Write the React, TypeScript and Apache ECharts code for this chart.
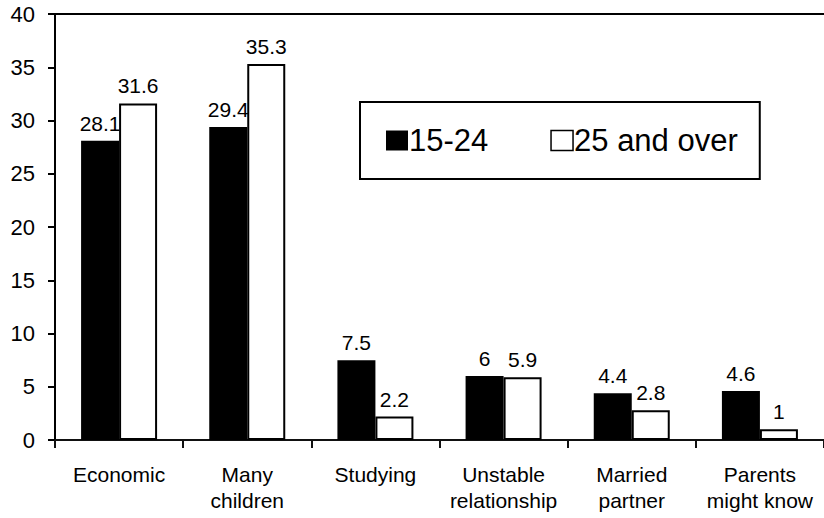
import React, { useEffect, useRef } from "react";
import * as echarts from "echarts";

const categories = [
  "Economic",
  "Many\nchildren",
  "Studying",
  "Unstable\nrelationship",
  "Married\npartner",
  "Parents\nmight know",
];
const young = [28.1, 29.4, 7.5, 6, 4.4, 4.6];
const older = [31.6, 35.3, 2.2, 5.9, 2.8, 1];
const seriesNames = ["15-24", "25 and over"];

const FONT = "'Liberation Sans', Arial, sans-serif";

export default function App() {
  const ref = useRef<HTMLDivElement>(null);

  useEffect(() => {
    if (!ref.current) return;
    const chart = echarts.init(ref.current, null, { renderer: "svg" });
    const barLabel = {
      show: true,
      position: "top",
      distance: 7,
      color: "#000",
      fontSize: 21,
      fontFamily: FONT,
    };
    chart.setOption({
      animation: false,
      backgroundColor: "#fff",
      textStyle: { fontFamily: FONT },
      grid: { left: 55, top: 14, width: 777, bottom: 78 },
      legend: {
        left: 360,
        top: 102,
        orient: "horizontal",
        icon: "rect",
        itemWidth: 22,
        itemHeight: 20,
        itemGap: 62,
        padding: [23, 22, 23, 26],
        borderColor: "#000",
        borderWidth: 2,
        backgroundColor: "#fff",
        textStyle: { fontSize: 31, color: "#000", fontFamily: FONT, padding: [0, 0, 0, -4] },
        data: [
          { name: seriesNames[0], itemStyle: { color: "#000" } },
          { name: seriesNames[1], itemStyle: { color: "#fff", borderColor: "#000", borderWidth: 1.5 } },
        ],
      },
      xAxis: [
        {
          type: "category",
          data: categories,
          axisLine: { show: true, lineStyle: { color: "#111", width: 2 } },
          axisTick: { show: true, length: 8, lineStyle: { color: "#111", width: 2 } },
          axisLabel: {
            interval: 0,
            color: "#000",
            fontSize: 21,
            lineHeight: 26,
            margin: 21,
            fontFamily: FONT,
          },
        },
        {
          type: "category",
          position: "top",
          data: categories,
          axisLine: { show: true, lineStyle: { color: "#000", width: 2 } },
          axisTick: { show: false },
          axisLabel: { show: false },
        },
      ],
      yAxis: {
        type: "value",
        min: 0,
        max: 40,
        interval: 5,
        axisLine: { show: true, lineStyle: { color: "#000", width: 2 } },
        axisTick: { show: true, length: 7, lineStyle: { color: "#000", width: 2 } },
        splitLine: { show: false },
        axisLabel: { color: "#000", fontSize: 22, margin: 20, fontFamily: FONT },
      },
      series: [
        {
          name: seriesNames[0],
          type: "bar",
          data: young,
          barWidth: 38,
          barGap: "0%",
          itemStyle: { color: "#000" },
          label: barLabel,
        },
        {
          name: seriesNames[1],
          type: "bar",
          data: older,
          barWidth: 38,
          barGap: "0%",
          itemStyle: { color: "#fff", borderColor: "#000", borderWidth: 2 },
          label: barLabel,
        },
      ],
    });
    return () => chart.dispose();
  }, []);

  return (
    <div
      ref={ref}
      style={{ position: "fixed", left: 0, top: 0, width: 824, height: 518, background: "#fff" }}
    />
  );
}
